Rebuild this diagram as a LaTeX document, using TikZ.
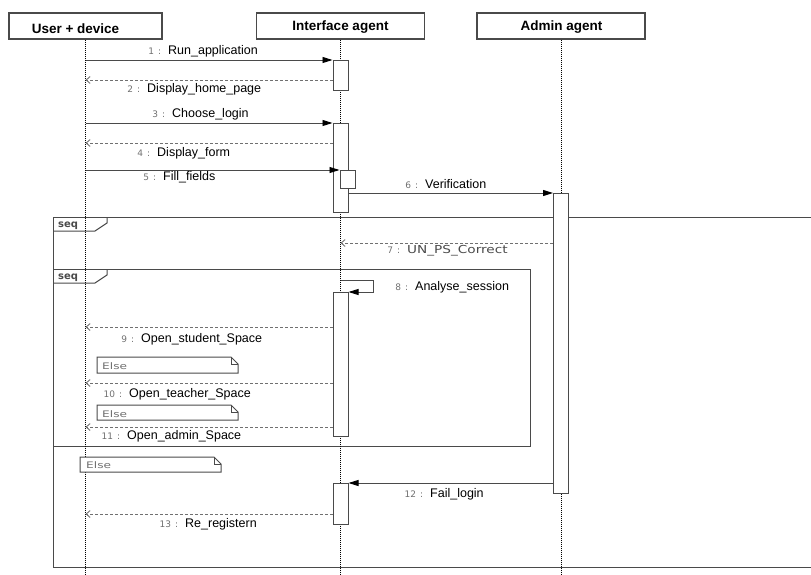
\documentclass[tikz,border=0pt]{standalone}
\usepackage{fontspec}
\setmainfont{Liberation Sans}
\newfontfamily\dvf{DejaVu Sans}
\usetikzlibrary{arrows.meta}
\definecolor{ln}{HTML}{4A4A4A}
\definecolor{lg}{HTML}{707070}
\newcommand\numlab[1]{{\dvf\fontsize{9}{10}\selectfont\color{lg}#1\hspace{4pt}:}}
\newcommand\mlab[2]{\llap{\numlab{#1}\hspace{7pt}}#2}
\newcommand\elsetxt{{\dvf\fontsize{9}{10}\selectfont\color{lg}\scalebox{1.35}[1]{Else}}}
\begin{document}
\begin{tikzpicture}[x=1pt,y=-1pt,
 hdr/.style={draw=ln, line width=1.2pt, fill=white, minimum height=26pt, inner sep=0pt},
 hdrtxt/.style={font=\fontsize{13.5}{16}\selectfont\bfseries, inner sep=0pt, anchor=base},
 life/.style={line width=1pt, dash pattern=on 1pt off 1pt, black},
 act/.style={draw=ln, line width=1pt, fill=white, minimum width=15pt, inner sep=0pt, anchor=north},
 msg/.style={draw=ln, line width=0.9pt, -{Triangle[length=10pt,width=6pt,color=black]}},
 ret/.style={draw=lg, line width=0.9pt, dash pattern=on 3pt off 2pt, -{Straight Barb[length=4pt,width=7pt]}},
 lbl/.style={font=\fontsize{12.5}{15}\selectfont, inner sep=0pt, anchor=base west},
 frm/.style={draw=ln, line width=1pt},
 seqtxt/.style={font=\dvf\fontsize{10}{12}\selectfont\bfseries, text=ln, inner sep=0pt, anchor=base west},
 notebox/.style={draw=ln, line width=1pt, fill=white},
 notetxt/.style={inner sep=0pt, anchor=base west}
]
\useasboundingbox (0,0) rectangle (811,575);

% frames
\draw[frm] (811,217) -- (53,217) -- (53,567) -- (811,567);
\draw[frm] (53,231) -- (95,231) -- (107,223) -- (107,217);
\node[seqtxt] (seq1) at (58,227.5) {seq};
\draw[frm] (53,269) rectangle (530,446);
\draw[frm] (53,283) -- (95,283) -- (107,275) -- (107,269);
\node[seqtxt] (seq2) at (58,279.5) {seq};

% headers
\node[hdr, minimum width=153pt] (u) at (85.5,26) {};
\node[hdrtxt] (ut) at (75.5,34) {User + device};
\node[hdr, minimum width=168pt] (i) at (340.5,26) {};
\node[hdrtxt] (it) at (340.5,31) {Interface agent};
\node[hdr, minimum width=168pt] (a) at (561,26) {};
\node[hdrtxt] (at) at (561.5,31) {Admin agent};

% lifelines
\coordinate (ue) at (85.5,575);
\coordinate (ie) at (340.5,575);
\coordinate (ae) at (561,575);
\draw[life] (u.south) -- (ue);
\draw[life] (i.south) -- (ie);
\draw[life] (a.south) -- (ae);

% activations
\node[act, minimum height=30pt] (a1) at (340.5,60) {};
\node[act, minimum height=89pt] (a2) at (340.5,123) {};
\node[act, minimum height=18pt] (a2b) at (347.5,170) {};
\node[act, minimum height=300pt] (aA) at (561,193) {};
\node[act, minimum height=144pt] (a3) at (340.5,292) {};
\node[act, minimum height=41pt] (a4) at (340.5,483) {};

% user lifeline points
\coordinate (u1) at (85.5,60);
\coordinate (u2) at (85.5,80);
\coordinate (u3) at (85.5,123);
\coordinate (u4) at (85.5,143);
\coordinate (u5) at (85.5,170);
\coordinate (u9) at (85.5,327);
\coordinate (u10) at (85.5,383);
\coordinate (u11) at (85.5,427);
\coordinate (u13) at (85.5,514);
\coordinate (i7) at (340.5,243);
\coordinate (i8) at (340.5,280);
\coordinate (c8) at (373,280);

% messages
\draw[msg] (u1) -- (a1.north west);
\draw[ret] (a1.west |- u2) -- (u2);
\draw[msg] (u3) -- (a2.north west);
\draw[ret] (a2.west |- u4) -- (u4);
\draw[msg] (u5) -- (a2b.north west);
\draw[msg] (a2.east |- aA.north) -- (aA.north west);
\draw[ret] (aA.west |- i7) -- (i7);
\draw[msg] (i8) -- (c8) |- (a3.north east);
\draw[ret] (a3.west |- u9) -- (u9);
\draw[ret] (a3.west |- u10) -- (u10);
\draw[ret] (a3.west |- u11) -- (u11);
\draw[msg] (aA.west |- a4.north) -- (a4.north east);
\draw[ret] (a4.west |- u13) -- (u13);

% notes
\draw[notebox] (97,357) -- (231,357) -- (238,364) -- (238,373) -- (97,373) -- cycle;
\draw[ln, line width=0.8pt] (231,357) -- (231,364) -- (238,364);
\node[notetxt] (e1) at (102,369) {\elsetxt};
\draw[notebox] (97,405) -- (231,405) -- (238,412) -- (238,420) -- (97,420) -- cycle;
\draw[ln, line width=0.8pt] (231,405) -- (231,412) -- (238,412);
\node[notetxt] (e2) at (102,417) {\elsetxt};
\draw[notebox] (80,457) -- (214,457) -- (221,464) -- (221,472) -- (80,472) -- cycle;
\draw[ln, line width=0.8pt] (214,457) -- (214,464) -- (221,464);
\node[notetxt] (e3) at (86,468) {\elsetxt};

% labels
\node[lbl] (l1) at (168,55) {\mlab{1}{Run\_application}};
\node[lbl] (l2) at (147,93) {\mlab{2}{Display\_home\_page}};
\node[lbl] (l3) at (172,118) {\mlab{3}{Choose\_login}};
\node[lbl] (l4) at (157,157) {\mlab{4}{Display\_form}};
\node[lbl] (l5) at (163,180) {\mlab{5}{Fill\_fields}};
\node[lbl] (l6) at (425,188) {\mlab{6}{Verification}};
\node[lbl] (l7) at (407,253) {\llap{\numlab{7}\hspace{7pt}}{\dvf\fontsize{11}{13}\selectfont\color{ln}\scalebox{1.24}[1]{UN\_PS\_Correct}}};
\node[lbl] (l8) at (415,290) {\mlab{8}{Analyse\_session}};
\node[lbl] (l9) at (141,342) {\mlab{9}{Open\_student\_Space}};
\node[lbl] (l10) at (129,397) {\mlab{10}{Open\_teacher\_Space}};
\node[lbl] (l11) at (127,439) {\mlab{11}{Open\_admin\_Space}};
\node[lbl] (l12) at (430,497) {\mlab{12}{Fail\_login}};
\node[lbl] (l13) at (185,527) {\mlab{13}{Re\_registern}};
\end{tikzpicture}
\end{document}
